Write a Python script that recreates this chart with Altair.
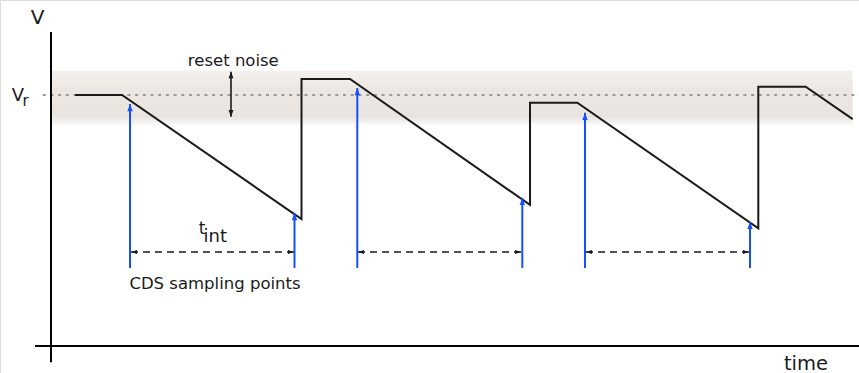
import altair as alt
import pandas as pd

# Time in arbitrary units (origin at the voltage axis), voltage normalised so V_r = 1
T_MIN, T_MAX = -0.51, 8.08
V_MIN, V_MAX = -0.1076, 1.3785

# Pixel waveform: hold at reset, integrate down, reset up (with kTC noise offset)
wave_t = [0.24, 0.71, 2.505, 2.505, 2.99, 4.79, 4.79, 5.263, 7.073, 7.073, 7.547, 8.017]
wave_v = [1.000, 1.000, 0.506, 1.064, 1.064, 0.562, 0.969, 0.969, 0.469, 1.033, 1.033, 0.904]

# CDS sampling instants and the waveform level each arrow points at
sample_t = [0.79, 2.435, 3.063, 4.713, 5.34, 6.99]
sample_v = [0.964, 0.530, 1.028, 0.590, 0.929, 0.495]
sample_base = 0.311

# Integration intervals (t_int) between paired samples
tint_start = [0.80, 3.07, 5.35]
tint_end = [2.43, 4.70, 6.98]
tint_level = 0.3745

# Reset noise band around V_r
vr = 1.0
noise_lo, noise_hi = 0.907, 1.097
band_end = 8.017
noise_arrow_t = 1.80
noise_arrow_lo, noise_arrow_hi = 0.9135, 1.093

FONT = "DejaVu Sans"
BLUE = "#1450ff"
INK = "#1a1a1a"

xs = alt.Scale(domain=[T_MIN, T_MAX], nice=False, zero=False)
ys = alt.Scale(domain=[V_MIN, V_MAX], nice=False, zero=False)


def X(f):
    return alt.X(f, type="quantitative", scale=xs, axis=None)


def Y(f):
    return alt.Y(f, type="quantitative", scale=ys, axis=None)


def X2(f):
    return alt.X2(f)


def Y2(f):
    return alt.Y2(f)


# Arrowhead shapes, tip at the anchor point
UP = "M0,0L0.45,1.2L-0.45,1.2Z"
DOWN = "M0,0L0.45,-1.2L-0.45,-1.2Z"
LEFT = "M0,0L1.2,0.42L1.2,-0.42Z"
RIGHT = "M0,0L-1.2,0.42L-1.2,-0.42Z"


def heads(df, shape, color, size):
    return alt.Chart(df).mark_point(
        shape=shape, filled=True, opacity=1, size=size, color=color, strokeWidth=0
    ).encode(x=X("t"), y=Y("v"))


# Reset-noise band with a soft lower edge
band = alt.Chart(pd.DataFrame({"t0": [0.0], "t1": [band_end], "v0": [noise_lo], "v1": [noise_hi]})).mark_rect(
    color=alt.Gradient(
        gradient="linear", x1=0, x2=0, y1=0, y2=1,
        stops=[alt.GradientStop(offset=0, color="#f4f0ec"),
               alt.GradientStop(offset=0.4, color="#ece7e2"),
               alt.GradientStop(offset=1, color="#e9e4df")],
    )
).encode(x=X("t0"), x2=X2("t1"), y=Y("v0"), y2=Y2("v1"))

band_fade = alt.Chart(pd.DataFrame({"t0": [0.0], "t1": [band_end], "v0": [0.876], "v1": [noise_lo]})).mark_rect(
    color=alt.Gradient(
        gradient="linear", x1=0, x2=0, y1=0, y2=1,
        stops=[alt.GradientStop(offset=0, color="#ebe7e3"),
               alt.GradientStop(offset=1, color="#ffffff")],
    )
).encode(x=X("t0"), x2=X2("t1"), y=Y("v0"), y2=Y2("v1"))

vr_line = alt.Chart(pd.DataFrame({"t0": [-0.083], "t1": [T_MAX], "v": [vr]})).mark_rule(
    color="#9a9a9a", strokeWidth=2.2, strokeDash=[3, 4.7]
).encode(x=X("t0"), x2=X2("t1"), y=Y("v"))

# Coordinate axes drawn as plain lines
axes_df = pd.DataFrame({
    "t0": [0.0, -0.16], "t1": [0.0, T_MAX],
    "v0": [-0.065, 0.0], "v1": [1.251, 0.0],
})
axes = alt.Chart(axes_df).mark_rule(color="#000000", strokeWidth=2).encode(
    x=X("t0"), x2=X2("t1"), y=Y("v0"), y2=Y2("v1")
)

wave_df = pd.DataFrame({"t": wave_t, "v": wave_v, "i": list(range(len(wave_t)))})
wave = alt.Chart(wave_df).mark_line(color=INK, strokeWidth=2, strokeJoin="miter").encode(
    x=X("t"), y=Y("v"), order="i:Q"
)

samp_df = pd.DataFrame({"t": sample_t, "v": sample_v, "b": [sample_base] * len(sample_t)})
samp_lines = alt.Chart(samp_df).mark_rule(color=BLUE, strokeWidth=2).encode(
    x=X("t"), y=Y("b"), y2=Y2("v")
)
samp_heads = heads(samp_df, UP, BLUE, 144)

tint_df = pd.DataFrame({"t0": tint_start, "t1": tint_end, "v": [tint_level] * len(tint_start)})
tint_lines = alt.Chart(tint_df).mark_rule(color="#555555", strokeWidth=2, strokeDash=[7, 5]).encode(
    x=X("t0"), x2=X2("t1"), y=Y("v")
)
tint_left = heads(pd.DataFrame({"t": tint_start, "v": [tint_level] * 3}), LEFT, INK, 100)
tint_right = heads(pd.DataFrame({"t": tint_end, "v": [tint_level] * 3}), RIGHT, INK, 100)

noise_line = alt.Chart(pd.DataFrame({"t": [noise_arrow_t], "v0": [noise_arrow_lo], "v1": [noise_arrow_hi]})).mark_rule(
    color=INK, strokeWidth=1.6
).encode(x=X("t"), y=Y("v0"), y2=Y2("v1"))
noise_top = heads(pd.DataFrame({"t": [noise_arrow_t], "v": [noise_arrow_hi]}), UP, INK, 121)
noise_bot = heads(pd.DataFrame({"t": [noise_arrow_t], "v": [noise_arrow_lo]}), DOWN, INK, 121)


def label(text, t, v, size, align="center"):
    return alt.Chart(pd.DataFrame({"t": [t], "v": [v], "s": [text]})).mark_text(
        font=FONT, fontSize=size, color=INK, align=align, baseline="alphabetic"
    ).encode(x=X("t"), y=Y("v"), text="s:N")


texts = [
    label("V", -0.135, 1.283, 20),
    label("V", -0.33, 0.977, 18),
    label("r", -0.255, 0.956, 15),
    label("reset noise", 1.823, 1.1155, 16.5),
    label("t", 1.545, 0.446, 17, align="right"),
    label("int", 1.525, 0.4155, 18, align="left"),
    label("CDS sampling points", 1.64, 0.226, 16.5),
    label("time", 7.55, -0.095, 19.5),
]

chart = alt.layer(
    band, band_fade, vr_line, axes, wave,
    samp_lines, samp_heads, tint_lines, tint_left, tint_right,
    noise_line, noise_top, noise_bot, *texts,
).properties(
    width=859, height=373, padding=0, autosize=alt.AutoSizeParams(type="none")
).configure_view(stroke=None).configure(background="white")

chart.save("out.html", embed_options={"renderer": "svg", "actions": False})
